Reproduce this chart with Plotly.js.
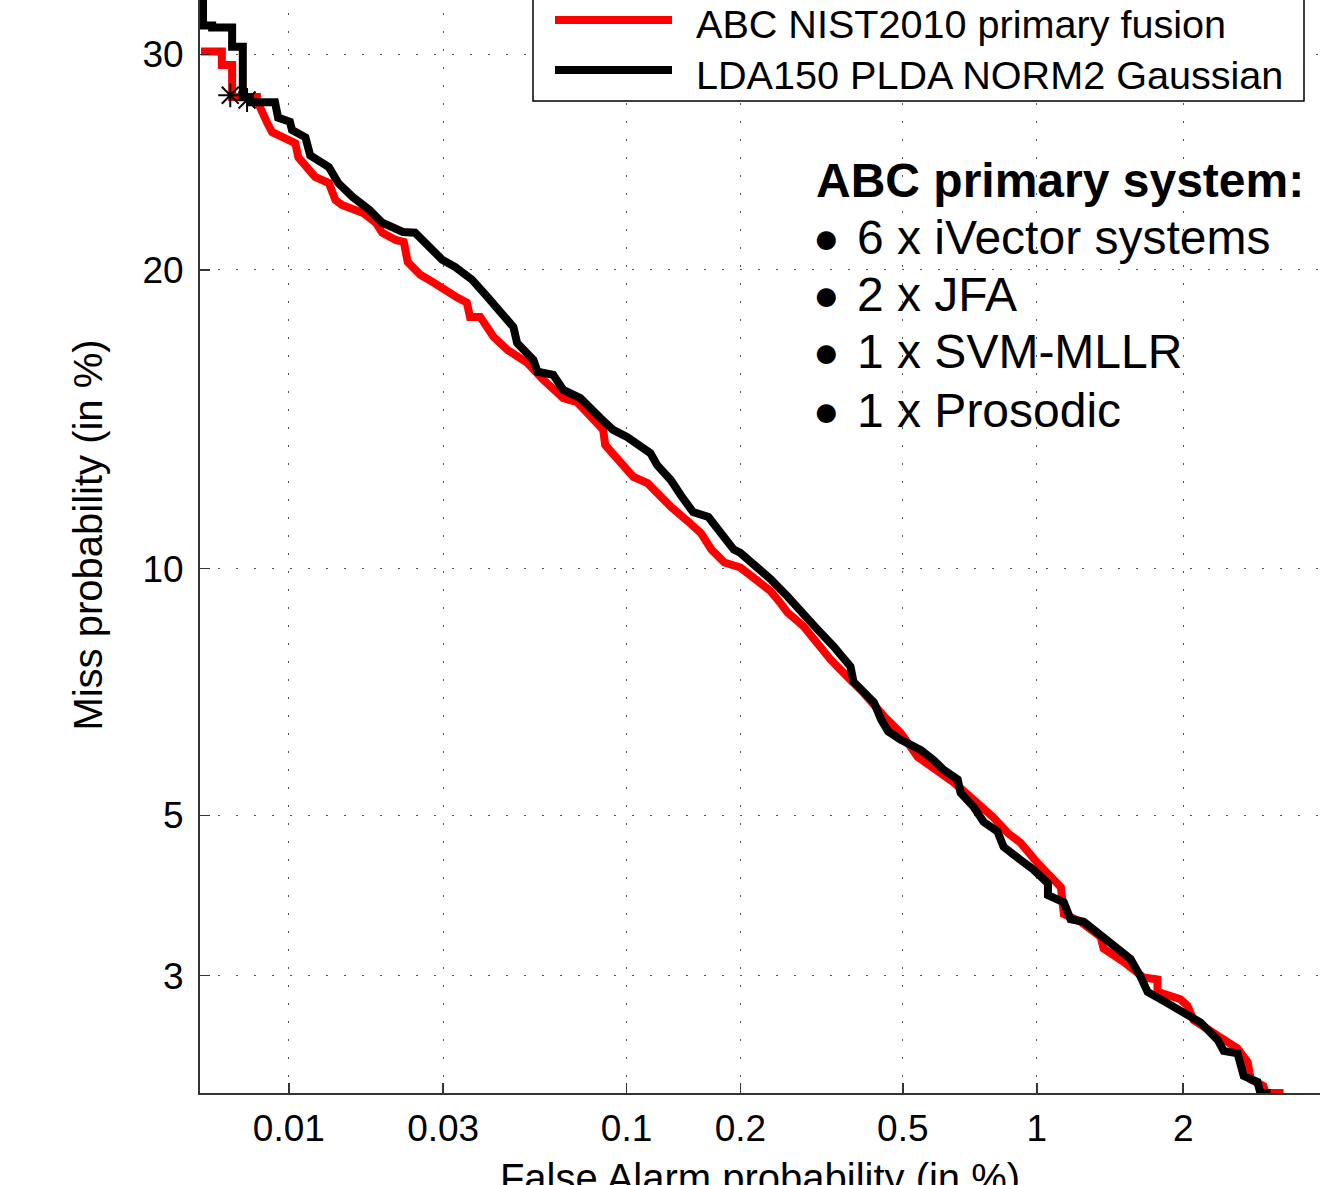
<!DOCTYPE html>
<html>
<head>
<meta charset="utf-8">
<script src="https://cdn.plot.ly/plotly-3.0.1.min.js"></script>
<style>
html,body{margin:0;padding:0;overflow:hidden;background:#fff;width:1343px;height:1185px;}
#chart{position:absolute;left:0;top:-23px;width:1343px;height:1300px;}
</style>
</head>
<body>
<div id="chart"></div>
<script>
// ---- Data (percent) ----
const faRed = [0.00517,0.00606,0.00606,0.00655,0.00655,0.00789,0.00789,0.00819,0.00852,0.00884,0.00972,0.01049,0.01073,0.01154,0.01213,0.0134,0.01405,0.01473,0.01714,0.01876,0.01963,0.02158,0.02284,0.02347,0.02563,0.0281,0.03,0.03304,0.03526,0.03603,0.03859,0.04224,0.04642,0.05288,0.05863,0.06684,0.07313,0.08308,0.08632,0.0874,0.09429,0.1044,0.114,0.121,0.1317,0.1456,0.158,0.1684,0.1819,0.2,0.2217,0.2387,0.2522,0.2632,0.2884,0.3048,0.3359,0.3694,0.4032,0.4521,0.4936,0.5421,0.6006,0.6551,0.7262,0.8034,0.8635,0.9214,1.0027,1.126,1.1425,1.239,1.364,1.383,1.521,1.669,1.779,1.779,1.975,2.038,2.095,2.291,2.543,2.657,2.692,2.843,2.868,3.095];
const missRed = [30.15,30.15,29.47,29.47,27.86,27.86,27.71,27.1,26.6,26.15,25.86,25.62,24.95,24.36,24.05,23.77,23.0,22.78,22.43,22.0,21.57,21.26,21.17,20.33,19.8,19.48,19.2,18.88,18.68,18.12,18.12,17.35,16.86,16.39,15.79,15.14,15.0,14.33,14.07,13.58,13.16,12.58,12.39,12.09,11.69,11.29,10.95,10.5,10.16,10.03,9.65,9.43,9.15,8.91,8.59,8.3,7.85,7.48,7.16,6.69,6.39,5.95,5.73,5.52,5.24,4.97,4.74,4.6,4.32,4.0,3.67,3.58,3.41,3.28,3.14,2.98,2.96,2.84,2.77,2.71,2.58,2.47,2.34,2.23,2.1,2.05,2.0,2.0];

const faBlack = [0.00525,0.00525,0.00563,0.00563,0.00655,0.00655,0.0071,0.0071,0.0075,0.0075,0.00903,0.00924,0.01008,0.01024,0.0113,0.0117,0.0134,0.01434,0.0159,0.0179,0.01963,0.0227,0.0247,0.02715,0.0298,0.0326,0.0365,0.04045,0.0434,0.0452,0.0482,0.0494,0.055,0.0565,0.0626,0.0668,0.0746,0.0847,0.0919,0.1003,0.1071,0.116,0.121,0.1317,0.1399,0.1507,0.1653,0.1788,0.1923,0.1996,0.2217,0.2387,0.2632,0.2884,0.3121,0.3414,0.3756,0.3819,0.4276,0.4447,0.4619,0.4936,0.5509,0.5889,0.6211,0.6687,0.6789,0.7262,0.7646,0.8206,0.8464,0.9214,0.9833,1.0565,1.0565,1.1425,1.18,1.258,1.345,1.451,1.57,1.645,1.70,1.828,1.949,2.095,2.16,2.332,2.394,2.543,2.612,2.771,2.806,2.93];
const missBlack = [40,31.5,31.5,31.4,31.4,30.4,30.4,27.85,27.85,27.6,27.6,26.85,26.65,26.25,25.9,25.05,24.5,23.77,23.14,22.57,22.0,21.6,21.57,20.96,20.42,20.12,19.6,18.92,18.4,18.08,17.73,17.12,16.5,16.07,15.96,15.43,15.14,14.47,14.07,13.84,13.58,13.32,12.94,12.48,12.03,11.54,11.4,10.95,10.5,10.42,10.03,9.73,9.3,8.91,8.52,8.14,7.7,7.38,6.96,6.63,6.41,6.26,6.07,5.9,5.73,5.57,5.35,5.13,4.9,4.76,4.54,4.36,4.23,4.05,3.9,3.81,3.61,3.58,3.46,3.31,3.17,2.99,2.84,2.755,2.68,2.61,2.56,2.41,2.32,2.3,2.125,2.08,2.0,2.0];

const faStars = [0.00646,0.00733];
const missStars = [27.95,27.71];

const xTickVals = [0.01,0.03,0.1,0.2,0.5,1,2];
const xTickText = ['0.01','0.03','0.1','0.2','0.5','1','2'];
const yTickVals = [3,5,10,20,30,40];
const yTickText = ['3','5','10','20','30','40'];

const seriesNames = ['ABC NIST2010 primary fusion','LDA150 PLDA NORM2 Gaussian'];
const noteTitle = '<b>ABC primary system:</b>';
const noteItems = ['6 x iVector systems','2 x JFA','1 x SVM-MLLR','1 x Prosodic'];

// ---- normal deviate (probit) scale used by DET plots ----
function probit(pct){
  const p = pct/100;
  const a=[-3.969683028665376e+01,2.209460984245205e+02,-2.759285104469687e+02,1.383577518672690e+02,-3.066479806614716e+01,2.506628277459239e+00];
  const b=[-5.447609879822406e+01,1.615858368580409e+02,-1.556989798598866e+02,6.680131188771972e+01,-1.328068155833272e+01];
  const c=[-7.784894002430293e-03,-3.223964580411365e-01,-2.400758277161838e+00,-2.549732539343734e+00,4.374664141464968e+00,2.938163982698783e+00];
  const d=[7.784695709041462e-03,3.224671290700398e-01,2.445134137142996e+00,3.754408661907416e+00];
  const plow=0.02425, phigh=1-plow;
  let q,r;
  if(p<plow){
    q=Math.sqrt(-2*Math.log(p));
    return (((((c[0]*q+c[1])*q+c[2])*q+c[3])*q+c[4])*q+c[5])/((((d[0]*q+d[1])*q+d[2])*q+d[3])*q+1);
  } else if(p<=phigh){
    q=p-0.5; r=q*q;
    return (((((a[0]*r+a[1])*r+a[2])*r+a[3])*r+a[4])*r+a[5])*q/(((((b[0]*r+b[1])*r+b[2])*r+b[3])*r+b[4])*r+1);
  } else {
    q=Math.sqrt(-2*Math.log(1-p));
    return -(((((c[0]*q+c[1])*q+c[2])*q+c[3])*q+c[4])*q+c[5])/((((d[0]*q+d[1])*q+d[2])*q+d[3])*q+1);
  }
}
const P = arr => arr.map(probit);

const FONT = 'Liberation Sans, Arial, Helvetica, sans-serif';

const traces = [
  {x:P(faRed), y:P(missRed), type:'scatter', mode:'lines', name:seriesNames[0],
   line:{color:'#ff0000', width:8}, showlegend:false},
  {x:P(faBlack), y:P(missBlack), type:'scatter', mode:'lines', name:seriesNames[1],
   line:{color:'#000000', width:8}, showlegend:false},
  {x:P(faStars), y:P(missStars), type:'scatter', mode:'markers', name:'min DCF',
   marker:{symbol:'asterisk-open', size:20, color:'#000', line:{color:'#000', width:2}}, showlegend:false}
];

// paper helpers (plot area: 1120 x 1116 px)
const PW = 1120, PH = 1116;
const px = v => (v-200)/PW;
const py = v => 1 - (v+23)/PH;

const shapes = [
  {type:'rect', xref:'paper', yref:'paper', x0:px(533), x1:px(1304), y0:py(101), y1:py(-13),
   line:{color:'#000', width:1.5}, fillcolor:'#fff', layer:'above'},
  {type:'line', xref:'paper', yref:'paper', x0:px(555), x1:px(672), y0:py(20), y1:py(20),
   line:{color:'#ff0000', width:8}, layer:'above'},
  {type:'line', xref:'paper', yref:'paper', x0:px(555), x1:px(672), y0:py(70), y1:py(70),
   line:{color:'#000', width:8}, layer:'above'}
];

const annotations = [
  {xref:'paper', yref:'paper', x:px(694), y:py(24), xanchor:'left', yanchor:'middle', showarrow:false,
   text:seriesNames[0], font:{family:FONT, size:39.6, color:'#000'}},
  {xref:'paper', yref:'paper', x:px(694), y:py(75), xanchor:'left', yanchor:'middle', showarrow:false,
   text:seriesNames[1], font:{family:FONT, size:39.6, color:'#000'}},
  {xref:'paper', yref:'paper', x:px(814), y:py(180), xanchor:'left', yanchor:'middle', showarrow:false,
   text:noteTitle, font:{family:FONT, size:48, color:'#000'}}
];
const itemY = [237, 294, 352, 411];
noteItems.forEach((t,i)=>{
  annotations.push({xref:'paper', yref:'paper', x:px(826.5), y:py(itemY[i]), xanchor:'center', yanchor:'middle',
    showarrow:false, text:'●', font:{family:FONT, size:44, color:'#000'}});
  annotations.push({xref:'paper', yref:'paper', x:px(855), y:py(itemY[i]), xanchor:'left', yanchor:'middle',
    showarrow:false, text:t, font:{family:FONT, size:48, color:'#000'}});
});

const layout = {
  width:1343, height:1300,
  margin:{l:200, r:23, t:0, b:184},
  paper_bgcolor:'#fff', plot_bgcolor:'#fff',
  showlegend:false,
  font:{family:FONT, size:37, color:'#000'},
  xaxis:{
    range:[probit(0.00513), probit(3.6)],
    tickvals:P(xTickVals), ticktext:xTickText,
    ticks:'inside', ticklen:10, tickwidth:1.5, tickcolor:'#333',
    showline:true, linecolor:'#333', linewidth:2, mirror:false,
    showgrid:true, gridcolor:'#555', gridwidth:1, griddash:'2px,16px',
    zeroline:false, ticklabelstandoff:2,
    tickfont:{family:FONT, size:37, color:'#000'},
    title:{text:'False Alarm probability (in %)', font:{family:FONT, size:40, color:'#000'}, standoff:16}
  },
  yaxis:{
    range:[probit(2), probit(34.08)],
    tickvals:P(yTickVals), ticktext:yTickText,
    ticks:'inside', ticklen:10, tickwidth:1.5, tickcolor:'#333',
    showline:true, linecolor:'#333', linewidth:2, mirror:false,
    showgrid:true, gridcolor:'#555', gridwidth:1, griddash:'2px,16px',
    zeroline:false, ticklabelstandoff:7,
    tickfont:{family:FONT, size:37, color:'#000'},
    title:{text:'Miss probability (in %)', font:{family:FONT, size:40, color:'#000'}, standoff:27}
  },
  shapes:shapes,
  annotations:annotations
};

Plotly.newPlot('chart', traces, layout, {displayModeBar:false, staticPlot:true});
</script>
</body>
</html>
